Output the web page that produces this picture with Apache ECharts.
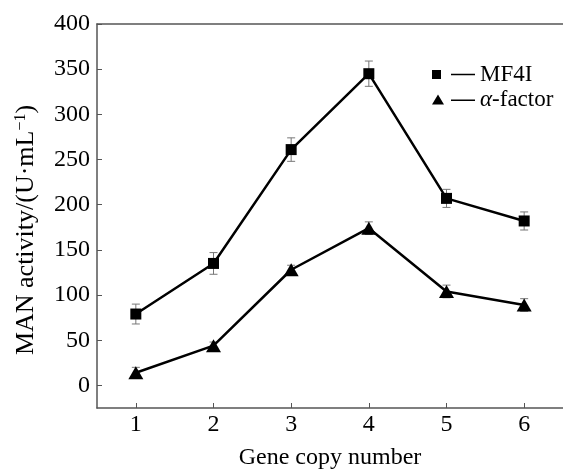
<!DOCTYPE html>
<html>
<head>
<meta charset="utf-8">
<script src="https://cdn.jsdelivr.net/npm/echarts@6/dist/echarts.min.js"></script>
<style>
  html, body { margin: 0; padding: 0; background: #fff; }
  #chart { width: 563px; height: 470px; }
</style>
</head>
<body>
<div id="chart"></div>
<script>
const copies = ['1', '2', '3', '4', '5', '6']
const mf4i = [79, 135, 261, 345, 207, 182]
const mf4iErr = [11, 12, 13, 14, 10, 10]
const alpha = [14, 44, 128, 174, 104, 89]
const alphaErr = [6, 4, 5, 7, 7, 7]
const yTicks = [0, 50, 100, 150, 200, 250, 300, 350, 400]

const chart = echarts.init(document.getElementById('chart'))

// error bars drawn as custom series (grey whiskers with caps)
const errData = (vals, errs) => vals.map((v, i) => [i, v - errs[i], v + errs[i]])
const renderErr = (params, api) => {
  const lo = api.coord([api.value(0), api.value(1)])
  const hi = api.coord([api.value(0), api.value(2)])
  const w = 4
  const style = { stroke: '#777', lineWidth: 1 }
  return {
    type: 'group',
    children: [
      { type: 'line', shape: { x1: lo[0], y1: lo[1], x2: hi[0], y2: hi[1] }, style },
      { type: 'line', shape: { x1: lo[0] - w, y1: lo[1], x2: lo[0] + w, y2: lo[1] }, style },
      { type: 'line', shape: { x1: hi[0] - w, y1: hi[1], x2: hi[0] + w, y2: hi[1] }, style }
    ]
  }
}

const font = 'Liberation Serif'
const axisColor = '#555'
const fs = 24

const option = {
  backgroundColor: '#fff',
  animation: false,
  grid: { left: 97, top: 24, bottom: 62, right: 0, outerBoundsMode: 'none' },
  legend: {
    left: 427, top: 58,
    orient: 'vertical',
    itemWidth: 43, itemHeight: 10, itemGap: 2,
    textStyle: {
      fontFamily: font, fontSize: 23, color: '#000',
      rich: { i: { fontFamily: font, fontSize: 23, fontStyle: 'italic', color: '#000' } }
    },
    formatter: name => name === 'alpha' ? '{i|α}-factor' : name,
    data: [
      { name: 'MF4I', icon: 'path://M0,0.5h9v9h-9Z M19,4.3h24v1.4h-24Z' },
      { name: 'alpha', icon: 'path://M6,0L12,10L0,10Z M19,5h24v1.4h-24Z' }
    ]
  },
  xAxis: [
    {
      type: 'category',
      data: copies,
      name: 'Gene copy number',
      nameLocation: 'middle',
      nameGap: 38,
      nameTextStyle: { fontFamily: font, fontSize: fs, color: '#000' },
      axisLine: { show: true, onZero: false, lineStyle: { color: axisColor, width: 1.5 } },
      axisTick: { show: true, inside: true, alignWithLabel: true, length: 5, lineStyle: { color: axisColor } },
      axisLabel: { fontFamily: font, fontSize: fs, color: '#000', margin: 5 },
      splitLine: { show: false }
    },
    {
      // top frame line only
      type: 'category',
      data: copies,
      position: 'top',
      axisLine: { show: true, onZero: false, lineStyle: { color: axisColor, width: 1.5 } },
      axisTick: { show: false },
      axisLabel: { show: false },
      splitLine: { show: false }
    }
  ],
  yAxis: {
    type: 'value',
    min: -25,
    max: 400,
    name: 'MAN activity/(U·mL{s|−1})',
    nameLocation: 'middle',
    nameGap: 58,
    nameTextStyle: {
      fontFamily: font, fontSize: 26, color: '#000',
      padding: [0, 28, 0, 0],
      rich: { s: { fontFamily: font, fontSize: 16, color: '#000', verticalAlign: 'top', padding: [0, 0, 10, 0] } }
    },
    axisLine: { show: true, onZero: false, lineStyle: { color: axisColor, width: 1.5 } },
    axisTick: { show: true, inside: true, length: 5, customValues: yTicks, lineStyle: { color: axisColor } },
    axisLabel: { fontFamily: font, fontSize: fs, color: '#000', margin: 7, customValues: yTicks },
    splitLine: { show: false }
  },
  series: [
    {
      type: 'custom',
      renderItem: renderErr,
      data: errData(mf4i, mf4iErr),
      z: 1, silent: true
    },
    {
      type: 'custom',
      renderItem: renderErr,
      data: errData(alpha, alphaErr),
      z: 1, silent: true
    },
    {
      name: 'MF4I',
      type: 'line',
      data: mf4i,
      symbol: 'rect',
      symbolSize: 11,
      itemStyle: { color: '#000' },
      lineStyle: { color: '#000', width: 2.5 },
      z: 3
    },
    {
      name: 'alpha',
      type: 'line',
      data: alpha,
      symbol: 'triangle',
      symbolSize: [15, 13],
      itemStyle: { color: '#000' },
      lineStyle: { color: '#000', width: 2.5 },
      z: 3
    }
  ]
}
chart.setOption(option)
</script>
</body>
</html>
